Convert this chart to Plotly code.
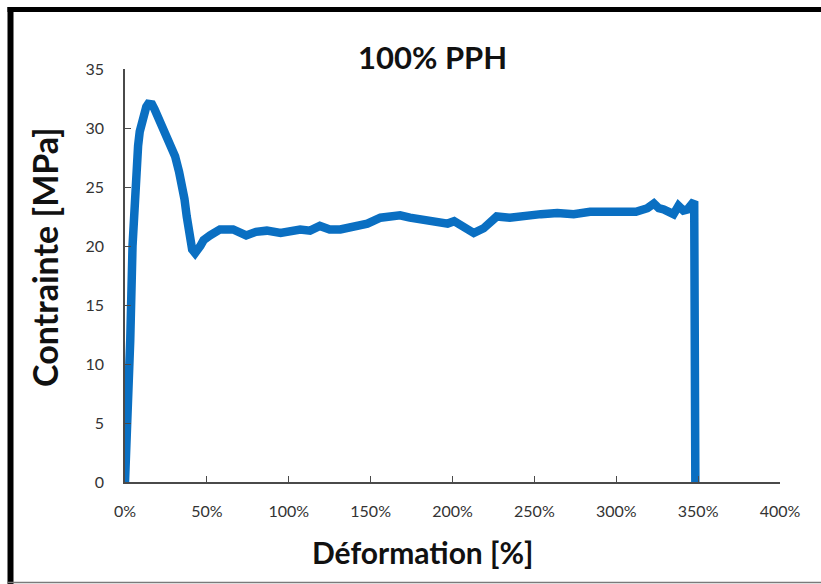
import plotly.graph_objects as go

# Tensile test curve: strain (%) vs stress (MPa)
strain = [0, 1.8, 3.2, 4.6, 6.0, 7.0, 8.0, 9.0, 10.2, 11.5, 13.0, 14.2, 15.3,
          16.5, 18.0, 20.0, 23.4, 27.0, 30.6, 33.0, 34.7, 36.3, 37.7, 39.0,
          39.8, 41.0, 42.8, 44.5, 46.0, 48.0, 50.0, 52.0, 58.0, 66.0, 74.0,
          80.0, 86.6, 95.0, 107.0, 113.0, 119.0, 125.0, 131.5, 140.0, 148.0,
          156.0, 163.0, 168.0, 174.0, 180.0, 188.0, 193.0, 197.0, 201.0, 207.0,
          213.0, 219.0, 223.0, 227.0, 235.0, 243.6, 254.0, 264.0, 274.0, 284.0,
          295.0, 305.0, 312.0, 319.0, 323.0, 326.0, 329.0, 335.0, 338.0, 341.0,
          343.5, 347.6, 348.3]
stress = [0, 5.0, 12.0, 20.0, 25.0, 27.0, 28.5, 29.7, 30.6, 31.3, 31.8, 32.05, 32.1,
          32.0, 31.6, 31.0, 30.1, 28.8, 27.6, 26.3, 25.3, 24.0, 22.5, 21.2,
          20.4, 19.7, 19.4, 19.6, 20.0, 20.5, 20.8, 20.9, 21.4, 21.4, 20.9,
          21.2, 21.3, 21.1, 21.4, 21.3, 21.7, 21.4, 21.4, 21.6, 21.9,
          22.4, 22.5, 22.6, 22.4, 22.3, 22.1, 22.0, 21.9, 22.1, 21.7,
          21.1, 21.5, 22.0, 22.5, 22.4, 22.6, 22.7, 22.8, 22.7, 22.9,
          22.9, 23.0, 22.9, 23.2, 23.6, 23.2, 23.1, 22.7, 23.4, 23.0,
          23.1, 23.8, 0]

chart_title = "100% PPH"
x_title = "Déformation [%]"
y_title = "Contrainte [MPa]"

W, H = 821, 584
L, R, T, B = 125, 41, 69, 102
PW, PH = W - L - R, H - T - B


def fx(px):
    return (px - L) / PW


def fy(py):
    return (H - B - py) / PH


FONT = "Lato"
AXIS_COLOR = "#4a4a4a"

fig = go.Figure()
fig.add_trace(go.Scatter(
    x=strain, y=stress, mode="lines",
    line=dict(color="#0a6fc2", width=8.5),
    hoverinfo="x+y", showlegend=False,
))

axis_common = dict(
    showgrid=False, zeroline=False, showline=True,
    linecolor=AXIS_COLOR, linewidth=1.5,
    ticks="inside", ticklen=6, tickwidth=1.3, tickcolor=AXIS_COLOR,
    tickfont=dict(family=FONT, size=16, color="#333333"),
)

fig.update_xaxes(range=[0, 400], dtick=50, tick0=0, ticksuffix="%",
                 ticklabelstandoff=14, **axis_common)
fig.update_yaxes(range=[0, 35], dtick=5, tick0=0,
                 ticklabelstandoff=16, **axis_common)

annotations = [
    dict(text=f"<b>{chart_title}</b>", x=fx(432), y=fy(57),
         font=dict(family=FONT, size=31, color="#111111")),
    dict(text=f"<b>{x_title}</b>", x=fx(422), y=fy(552),
         font=dict(family=FONT, size=30, color="#111111")),
    dict(text=f"<b>{y_title}</b>", x=fx(44), y=fy(257), textangle=-90,
         font=dict(family=FONT, size=34, color="#111111")),
]
for a in annotations:
    a.update(xref="paper", yref="paper", showarrow=False,
             xanchor="center", yanchor="middle")

# Frame around the figure
shapes = [
    dict(type="line", x0=fx(10.5), x1=fx(10.5), y0=fy(7), y1=fy(584),
         line=dict(color="black", width=6)),
    dict(type="line", x0=fx(7.5), x1=fx(830), y0=fy(9.5), y1=fy(9.5),
         line=dict(color="black", width=5)),
    dict(type="line", x0=fx(8), x1=fx(830), y0=fy(582.5), y1=fy(582.5),
         line=dict(color="#7a7a7a", width=1.5)),
]
for s in shapes:
    s.update(xref="paper", yref="paper", layer="above")

fig.update_layout(
    width=W, height=H,
    margin=dict(l=L, r=R, t=T, b=B),
    paper_bgcolor="white", plot_bgcolor="white",
    annotations=annotations, shapes=shapes,
    font=dict(family=FONT),
)

fig.write_html("out.html", include_plotlyjs=True,
               config={"displayModeBar": False})
